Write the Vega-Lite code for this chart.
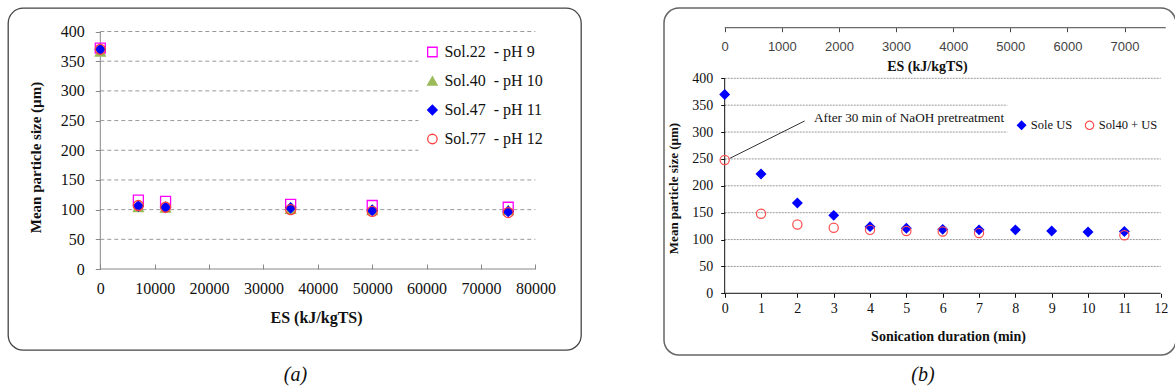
{
  "$schema": "https://vega.github.io/schema/vega-lite/v6.json",
  "background": "white",
  "padding": {"left": 7, "top": 7, "right": 0, "bottom": 0},
  "spacing": 81,
  "resolve": {
    "scale": {"shape": "independent", "fill": "independent", "stroke": "independent"},
    "legend": {"shape": "independent", "fill": "independent", "stroke": "independent"}
  },
  "config": {
    "font": "Liberation Serif",
    "view": {"stroke": null},
    "axis": {"labelFont": "Liberation Serif", "titleFont": "Liberation Serif", "labelColor": "#111", "titleColor": "#111", "grid": false, "domain": false},
    "legend": {"labelFont": "Liberation Serif", "labelColor": "#111", "titleFont": "Liberation Serif"}
  },
  "hconcat": [
    {
      "width": 573,
      "height": 342,
      "view": {"stroke": "#444", "strokeWidth": 1.3, "cornerRadius": 15, "fill": "white"},
      "title": {"text": "(a)", "orient": "bottom", "offset": 15, "dx": 1, "font": "Liberation Serif", "fontStyle": "italic", "fontWeight": "normal", "fontSize": 20, "color": "#111"},
      "layer": [
        {
          "data": {"values": [{"v": 50}, {"v": 100}, {"v": 150}, {"v": 200}, {"v": 250}, {"v": 300}, {"v": 350}, {"v": 400}]},
          "mark": {"type": "rule", "color": "#999", "strokeDash": [4, 3], "strokeWidth": 1},
          "encoding": {
            "y": {"field": "v", "type": "quantitative", "scale": {"domain": [-136.4, 439.6], "nice": false, "zero": false},
              "axis": {"orient": "left", "offset": -92.3, "values": [0, 50, 100, 150, 200, 250, 300, 350, 400], "domain": false, "grid": false, "ticks": true, "tickSize": 5, "tickColor": "#888", "labelFont": "Liberation Serif", "labelFontSize": 16, "labelPadding": 11, "title": "Mean particle  size (µm)", "titleFont": "Liberation Serif", "titleFontSize": 15, "titleFontWeight": "bold", "titleY": 149, "titlePadding": 17}},
            "x": {"datum": 0, "type": "quantitative", "scale": {"domain": [-16971, 88385], "nice": false, "zero": false},
              "axis": {"orient": "bottom", "offset": -81, "values": [0, 10000, 20000, 30000, 40000, 50000, 60000, 70000, 80000], "format": "d", "domain": false, "grid": false, "ticks": true, "tickSize": -5, "tickColor": "#888", "labelFont": "Liberation Serif", "labelFontSize": 16, "labelPadding": 16, "title": "ES (kJ/kgTS)", "titleFont": "Liberation Serif", "titleFontSize": 16, "titleFontWeight": "bold", "titleX": 308, "titlePadding": 13}},
            "x2": {"datum": 80000}
          }
        },
        {
          "data": {"values": [{}]},
          "mark": {"type": "rule", "color": "#888", "strokeWidth": 1},
          "encoding": {
            "x": {"datum": 0, "type": "quantitative", "scale": {"domain": [-16971, 88385], "nice": false, "zero": false}},
            "y": {"datum": 0, "type": "quantitative", "scale": {"domain": [-136.4, 439.6], "nice": false, "zero": false}},
            "y2": {"datum": 400}
          }
        },
        {
          "data": {"values": [{}]},
          "mark": {"type": "rule", "color": "#888", "strokeWidth": 1},
          "encoding": {
            "x": {"datum": 0, "type": "quantitative", "scale": {"domain": [-16971, 88385], "nice": false, "zero": false}},
            "x2": {"datum": 80000},
            "y": {"datum": 0, "type": "quantitative", "scale": {"domain": [-136.4, 439.6], "nice": false, "zero": false}}
          }
        },
        {
          "data": {"values": [
            {"series": "Sol.22 \u00a0- pH 9", "es": 0, "size": 372},
            {"series": "Sol.22 \u00a0- pH 9", "es": 7000, "size": 116},
            {"series": "Sol.22 \u00a0- pH 9", "es": 12000, "size": 114},
            {"series": "Sol.22 \u00a0- pH 9", "es": 35000, "size": 109},
            {"series": "Sol.22 \u00a0- pH 9", "es": 50000, "size": 107},
            {"series": "Sol.22 \u00a0- pH 9", "es": 75000, "size": 104},
            {"series": "Sol.40 \u00a0- pH 10", "es": 0, "size": 366},
            {"series": "Sol.40 \u00a0- pH 10", "es": 7000, "size": 104},
            {"series": "Sol.40 \u00a0- pH 10", "es": 12000, "size": 103},
            {"series": "Sol.40 \u00a0- pH 10", "es": 35000, "size": 101},
            {"series": "Sol.40 \u00a0- pH 10", "es": 50000, "size": 99},
            {"series": "Sol.40 \u00a0- pH 10", "es": 75000, "size": 99},
            {"series": "Sol.47 \u00a0- pH 11", "es": 0, "size": 370},
            {"series": "Sol.47 \u00a0- pH 11", "es": 7000, "size": 106},
            {"series": "Sol.47 \u00a0- pH 11", "es": 12000, "size": 104},
            {"series": "Sol.47 \u00a0- pH 11", "es": 35000, "size": 103},
            {"series": "Sol.47 \u00a0- pH 11", "es": 50000, "size": 99},
            {"series": "Sol.47 \u00a0- pH 11", "es": 75000, "size": 97},
            {"series": "Sol.77 \u00a0- pH 12", "es": 0, "size": 370},
            {"series": "Sol.77 \u00a0- pH 12", "es": 7000, "size": 107},
            {"series": "Sol.77 \u00a0- pH 12", "es": 12000, "size": 104},
            {"series": "Sol.77 \u00a0- pH 12", "es": 35000, "size": 100},
            {"series": "Sol.77 \u00a0- pH 12", "es": 50000, "size": 97},
            {"series": "Sol.77 \u00a0- pH 12", "es": 75000, "size": 95}
          ]},
          "mark": {"type": "point", "size": 100, "strokeWidth": 1.3, "opacity": 1},
          "encoding": {
            "x": {"field": "es", "type": "quantitative", "scale": {"domain": [-16971, 88385], "nice": false, "zero": false}},
            "y": {"field": "size", "type": "quantitative", "scale": {"domain": [-136.4, 439.6], "nice": false, "zero": false}},
            "shape": {"field": "series", "type": "nominal",
              "scale": {"domain": ["Sol.22 \u00a0- pH 9", "Sol.40 \u00a0- pH 10", "Sol.47 \u00a0- pH 11", "Sol.77 \u00a0- pH 12"], "range": ["square", "triangle-up", "diamond", "circle"]},
              "legend": {"title": null, "orient": "none", "direction": "vertical", "legendX": 410.4, "legendY": 30, "fillColor": "white", "padding": 6, "rowPadding": 13, "labelFont": "Liberation Serif", "labelFontSize": 16, "symbolSize": 90, "symbolStrokeWidth": 1.3, "labelOffset": 4}},
            "fill": {"field": "series", "type": "nominal",
              "scale": {"domain": ["Sol.22 \u00a0- pH 9", "Sol.40 \u00a0- pH 10", "Sol.47 \u00a0- pH 11", "Sol.77 \u00a0- pH 12"], "range": ["transparent", "#9BBB59", "#0000FF", "transparent"]},
              "legend": {"title": null, "orient": "none", "direction": "vertical", "legendX": 410.4, "legendY": 30, "fillColor": "white", "padding": 6, "rowPadding": 13, "labelFont": "Liberation Serif", "labelFontSize": 16, "symbolSize": 90, "symbolStrokeWidth": 1.3, "labelOffset": 4}},
            "stroke": {"field": "series", "type": "nominal",
              "scale": {"domain": ["Sol.22 \u00a0- pH 9", "Sol.40 \u00a0- pH 10", "Sol.47 \u00a0- pH 11", "Sol.77 \u00a0- pH 12"], "range": ["#FF00FF", "#9BBB59", "#0000FF", "#FF4040"]},
              "legend": {"title": null, "orient": "none", "direction": "vertical", "legendX": 410.4, "legendY": 30, "fillColor": "white", "padding": 6, "rowPadding": 13, "labelFont": "Liberation Serif", "labelFontSize": 16, "symbolSize": 90, "symbolStrokeWidth": 1.3, "labelOffset": 4}}
          }
        }
      ]
    },
    {
      "width": 512,
      "height": 347,
      "view": {"stroke": "#666", "strokeWidth": 1.5, "cornerRadius": 15, "fill": "white"},
      "title": {"text": "(b)", "orient": "bottom", "offset": 10, "dx": 3, "font": "Liberation Serif", "fontStyle": "italic", "fontWeight": "normal", "fontSize": 20, "color": "#111"},
      "resolve": {"scale": {"x": "independent"}, "axis": {"x": "independent"}},
      "layer": [
        {
          "layer": [
            {
              "data": {"values": [{"v": 50}, {"v": 100}, {"v": 150}, {"v": 200}, {"v": 250}, {"v": 300}, {"v": 350}, {"v": 400}]},
              "mark": {"type": "rule", "color": "#999", "strokeDash": [2, 1], "strokeWidth": 1},
              "encoding": {
                "y": {"field": "v", "type": "quantitative", "scale": {"domain": [-114.8, 530.8], "nice": false, "zero": false},
                  "axis": {"orient": "left", "offset": -60.7, "values": [0, 50, 100, 150, 200, 250, 300, 350, 400], "domain": false, "grid": false, "ticks": true, "tickSize": 4, "tickColor": "#111", "labelFont": "Liberation Serif", "labelFontSize": 14, "labelPadding": 8, "title": "Mean particle  size (µm)", "titleFont": "Liberation Serif", "titleFontSize": 13, "titleFontWeight": "bold", "titleY": 180, "titlePadding": 11}},
                "x": {"datum": 0, "type": "quantitative", "scale": {"domain": [-1.6706, 12.4211], "nice": false, "zero": false},
                  "axis": {"orient": "bottom", "offset": -61.7, "values": [0, 1, 2, 3, 4, 5, 6, 7, 8, 9, 10, 11, 12], "format": "d", "domain": false, "grid": false, "ticks": true, "tickSize": 4, "tickColor": "#111", "labelFont": "Liberation Serif", "labelFontSize": 14, "labelPadding": 4, "title": "Sonication  duration  (min)", "titleFont": "Liberation Serif", "titleFontSize": 14, "titleFontWeight": "bold", "titleX": 284, "titlePadding": 14}},
                "x2": {"datum": 12}
              }
            },
            {
              "data": {"values": [{}]},
              "mark": {"type": "rule", "color": "#111", "strokeWidth": 1},
              "encoding": {
                "x": {"datum": 0, "type": "quantitative", "scale": {"domain": [-1.6706, 12.4211], "nice": false, "zero": false}},
                "y": {"datum": 0, "type": "quantitative", "scale": {"domain": [-114.8, 530.8], "nice": false, "zero": false}},
                "y2": {"datum": 400}
              }
            },
            {
              "data": {"values": [{}]},
              "mark": {"type": "rule", "color": "#111", "strokeWidth": 1},
              "encoding": {
                "x": {"datum": 0, "type": "quantitative", "scale": {"domain": [-1.6706, 12.4211], "nice": false, "zero": false}},
                "x2": {"datum": 12},
                "y": {"datum": 0, "type": "quantitative", "scale": {"domain": [-114.8, 530.8], "nice": false, "zero": false}}
              }
            },
            {
              "data": {"values": [{}]},
              "mark": {"type": "rule", "color": "#333", "strokeWidth": 1},
              "encoding": {
                "x": {"datum": 0.14, "type": "quantitative", "scale": {"domain": [-1.6706, 12.4211], "nice": false, "zero": false}},
                "x2": {"datum": 2.2},
                "y": {"datum": 251, "type": "quantitative", "scale": {"domain": [-114.8, 530.8], "nice": false, "zero": false}},
                "y2": {"datum": 320.6}
              }
            },
            {
              "data": {"values": [{}]},
              "mark": {"type": "text", "text": "After 30 min of NaOH pretreatment", "align": "left", "baseline": "middle", "font": "Liberation Serif", "fontSize": 13.2, "color": "#111"},
              "encoding": {
                "x": {"datum": 2.46, "type": "quantitative", "scale": {"domain": [-1.6706, 12.4211], "nice": false, "zero": false}},
                "y": {"datum": 326.7, "type": "quantitative", "scale": {"domain": [-114.8, 530.8], "nice": false, "zero": false}}
              }
            },
            {
              "data": {"values": [
                {"series": "Sole US", "t": 0, "size": 370},
                {"series": "Sole US", "t": 1, "size": 222},
                {"series": "Sole US", "t": 2, "size": 168},
                {"series": "Sole US", "t": 3, "size": 145},
                {"series": "Sole US", "t": 4, "size": 124},
                {"series": "Sole US", "t": 5, "size": 121},
                {"series": "Sole US", "t": 6, "size": 119},
                {"series": "Sole US", "t": 7, "size": 118},
                {"series": "Sole US", "t": 8, "size": 118},
                {"series": "Sole US", "t": 9, "size": 116},
                {"series": "Sole US", "t": 10, "size": 114},
                {"series": "Sole US", "t": 11, "size": 115},
                {"series": "Sol40 + US", "t": 0, "size": 248},
                {"series": "Sol40 + US", "t": 1, "size": 148},
                {"series": "Sol40 + US", "t": 2, "size": 128},
                {"series": "Sol40 + US", "t": 3, "size": 122},
                {"series": "Sol40 + US", "t": 4, "size": 118},
                {"series": "Sol40 + US", "t": 5, "size": 116},
                {"series": "Sol40 + US", "t": 6, "size": 115},
                {"series": "Sol40 + US", "t": 7, "size": 112},
                {"series": "Sol40 + US", "t": 11, "size": 108}
              ]},
              "mark": {"type": "point", "size": 85, "strokeWidth": 1.2, "opacity": 1},
              "encoding": {
                "x": {"field": "t", "type": "quantitative", "scale": {"domain": [-1.6706, 12.4211], "nice": false, "zero": false}},
                "y": {"field": "size", "type": "quantitative", "scale": {"domain": [-114.8, 530.8], "nice": false, "zero": false}},
                "shape": {"field": "series", "type": "nominal", "scale": {"domain": ["Sole US", "Sol40 + US"], "range": ["diamond", "circle"]},
                  "legend": {"title": " ", "titleFontSize": 8, "titlePadding": 0, "orient": "none", "direction": "horizontal", "legendX": 343.3, "legendY": 95, "fillColor": "white", "padding": 8, "columnPadding": 10, "labelFont": "Liberation Serif", "labelFontSize": 12.5, "symbolSize": 70, "symbolStrokeWidth": 1.2, "labelOffset": 3}},
                "fill": {"field": "series", "type": "nominal", "scale": {"domain": ["Sole US", "Sol40 + US"], "range": ["#0000FF", "transparent"]},
                  "legend": {"title": " ", "titleFontSize": 8, "titlePadding": 0, "orient": "none", "direction": "horizontal", "legendX": 343.3, "legendY": 95, "fillColor": "white", "padding": 8, "columnPadding": 10, "labelFont": "Liberation Serif", "labelFontSize": 12.5, "symbolSize": 70, "symbolStrokeWidth": 1.2, "labelOffset": 3}},
                "stroke": {"field": "series", "type": "nominal", "scale": {"domain": ["Sole US", "Sol40 + US"], "range": ["#0000FF", "#FF4D4D"]},
                  "legend": {"title": " ", "titleFontSize": 8, "titlePadding": 0, "orient": "none", "direction": "horizontal", "legendX": 343.3, "legendY": 95, "fillColor": "white", "padding": 8, "columnPadding": 10, "labelFont": "Liberation Serif", "labelFontSize": 12.5, "symbolSize": 70, "symbolStrokeWidth": 1.2, "labelOffset": 3}}
              }
            }
          ]
        },
        {
          "data": {"values": [{}]},
          "mark": {"type": "rule", "color": "#444", "strokeWidth": 1},
          "encoding": {
            "x": {"datum": 0, "type": "quantitative", "scale": {"domain": [-1063, 7901], "nice": false, "zero": false},
              "axis": {"orient": "bottom", "offset": -327.3, "values": [0, 1000, 2000, 3000, 4000, 5000, 6000, 7000], "format": "d", "domain": false, "grid": false, "ticks": true, "tickSize": 4, "tickColor": "#444", "labelFont": "Liberation Sans", "labelFontSize": 13, "labelColor": "#444", "labelPadding": 9, "title": "ES (kJ/kgTS)", "titleFont": "Liberation Serif", "titleFontSize": 14, "titleFontWeight": "bold", "titleX": 263, "titlePadding": 6}},
            "x2": {"datum": 7722},
            "y": {"datum": 494.1, "type": "quantitative", "scale": {"domain": [-114.8, 530.8], "nice": false, "zero": false}}
          }
        }
      ]
    }
  ]
}
